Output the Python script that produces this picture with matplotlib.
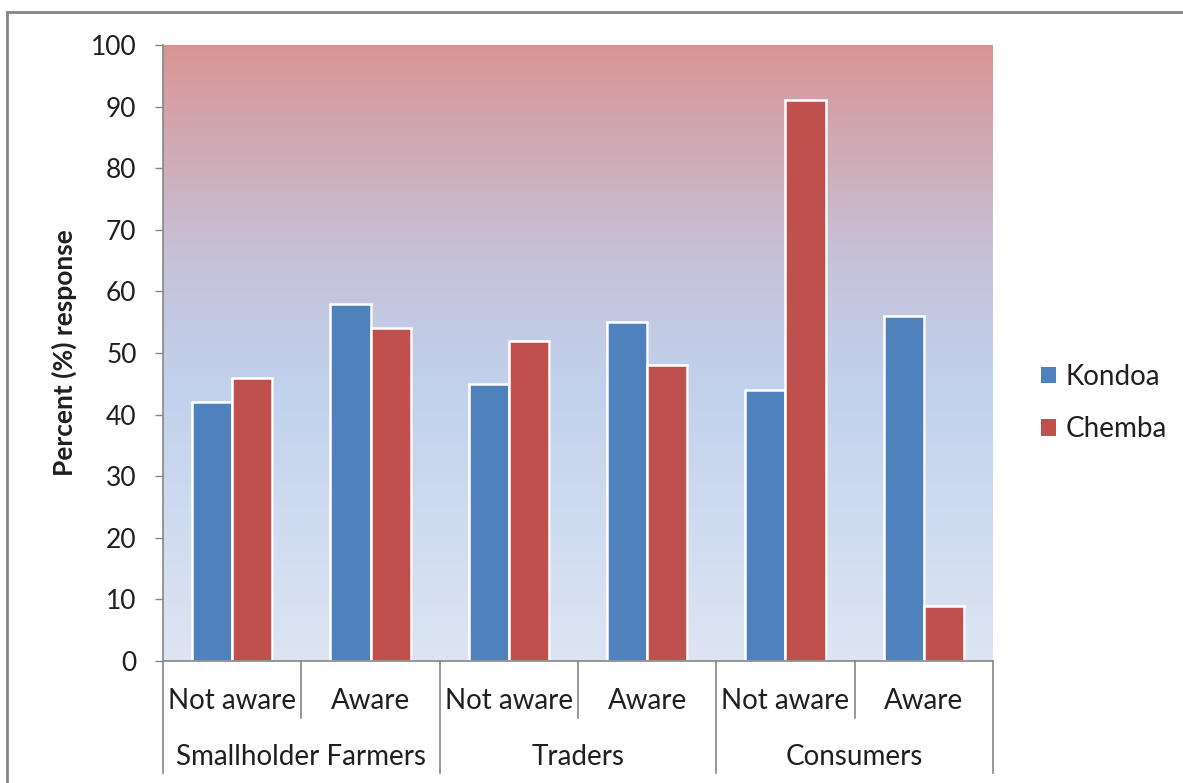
import numpy as np
import matplotlib
matplotlib.use("Agg")
import matplotlib.pyplot as plt
import matplotlib.patheffects as pe
from matplotlib.colors import LinearSegmentedColormap
from matplotlib.patches import Patch, Rectangle

plt.rcParams['font.family'] = ['Lato', 'DejaVu Sans']

groups = ["Smallholder Farmers", "Traders", "Consumers"]
awareness = ["Not aware", "Aware", "Not aware", "Aware", "Not aware", "Aware"]
kondoa = [42, 58, 45, 55, 44, 56]
chemba = [46, 54, 52, 48, 91, 9]
yticks = [0, 10, 20, 30, 40, 50, 60, 70, 80, 90, 100]

blue = "#4F81BD"
red = "#C0504D"
grey = "#868686"
txt = "#1f1f1f"

fig = plt.figure(figsize=(11.83, 7.83), dpi=100)
ax = fig.add_axes([163 / 1183, 1 - 661 / 783, 830 / 1183, 616 / 783])

# background gradient: pale blue at the bottom, blue in the middle, red on top
bg = LinearSegmentedColormap.from_list("bg", [
    (0.0, "#DDE5F3"),
    (0.45, "#C1D1EC"),
    (0.65, "#C6C2D9"),
    (1.0, "#D99594"),
])
grad = np.linspace(0, 1, 256).reshape(-1, 1)
ax.imshow(grad, cmap=bg, origin="lower", aspect="auto",
          extent=[-0.5, 5.5, 0, 100], zorder=0)

x = np.arange(len(awareness))
w = 0.29
shadow = [pe.SimplePatchShadow(offset=(1.5, -1.5), shadow_rgbFace="#555555", alpha=0.3),
          pe.Normal()]
b1 = ax.bar(x - w / 2, kondoa, w, color=blue, edgecolor="white", linewidth=1.8, zorder=2)
b2 = ax.bar(x + w / 2, chemba, w, color=red, edgecolor="white", linewidth=1.8, zorder=2)
for p in list(b1) + list(b2):
    p.set_path_effects(shadow)

ax.set_xlim(-0.5, 5.5)
ax.set_ylim(0, 100)
ax.set_yticks(yticks)
ax.tick_params(axis="y", length=6, width=1, color=grey, pad=13,
               labelsize=19, labelcolor=txt)
ax.set_xticks([])
for s in ["top", "right"]:
    ax.spines[s].set_visible(False)
for s in ["left", "bottom"]:
    ax.spines[s].set_color(grey)
    ax.spines[s].set_linewidth(1.2)

ax.set_ylabel("Percent (%) response", fontsize=19, fontweight="bold",
              color=txt, labelpad=10)

# two-level category axis
tr = ax.get_xaxis_transform()
for i, lab in enumerate(awareness):
    ax.text(i, -0.065, lab, transform=tr, ha="center", va="center",
            fontsize=20, color=txt)
for g, name in enumerate(groups):
    ax.text(2 * g + 0.5, -0.156, name, transform=tr, ha="center", va="center",
            fontsize=20, color=txt)
for k in range(7):
    bottom = -0.182 if k % 2 == 0 else -0.0925
    ax.plot([k - 0.5, k - 0.5], [0, bottom], transform=tr, color=grey,
            linewidth=1.2, clip_on=False)

handles = [Patch(facecolor=blue, edgecolor="none"),
           Patch(facecolor=red, edgecolor="none")]
fig.legend(handles, ["Kondoa", "Chemba"], loc="center left",
           bbox_to_anchor=(1027 / 1183, 1 - 403 / 783), frameon=False,
           fontsize=20, handlelength=0.55, handleheight=0.55,
           handletextpad=0.35, labelspacing=0.95, borderpad=0,
           labelcolor=txt)

# outer chart frame
fig.patches.append(Rectangle((7 / 1183, -0.05), 1.2, 0.05 + 1 - 12 / 783,
                             transform=fig.transFigure, fill=False,
                             edgecolor=grey, linewidth=2))

fig.savefig("out.png", dpi=100, facecolor="white")
